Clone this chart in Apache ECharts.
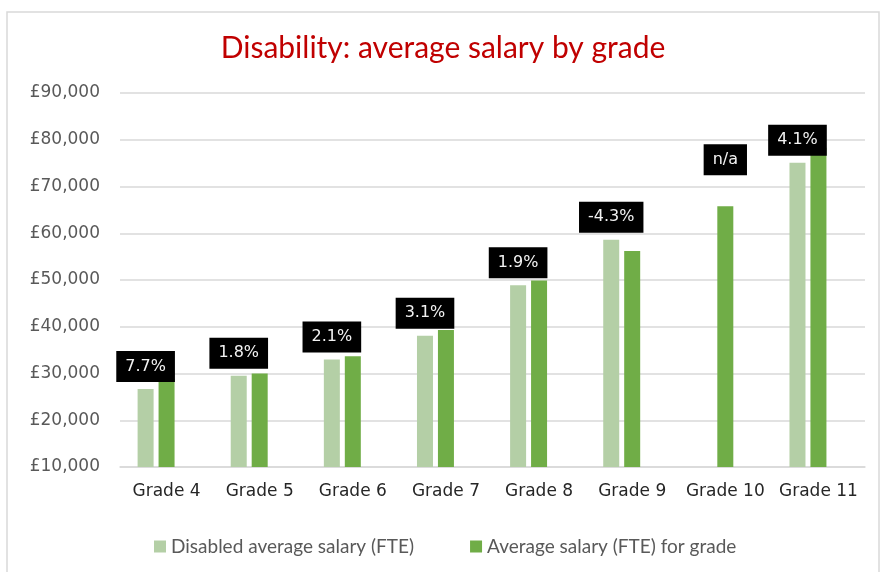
<!DOCTYPE html>
<html>
<head>
<meta charset="utf-8">
<title>Disability: average salary by grade</title>
<script src="https://cdn.jsdelivr.net/npm/echarts@6/dist/echarts.min.js"></script>
<style>
	html, body { margin: 0; padding: 0; background: #fff; }
	#chart { width: 886px; height: 572px; }
</style>
</head>
<body>
<div id="chart"></div>
<script>
	// values
	const grades = ['Grade 4', 'Grade 5', 'Grade 6', 'Grade 7', 'Grade 8', 'Grade 9', 'Grade 10', 'Grade 11'];
	const disabledSalary = [26700, 29500, 33000, 38100, 48900, 58600, null, 75100];
	const gradeSalary = [28900, 30000, 33700, 39300, 49900, 56200, 65800, 78300];
	const payGap = ['7.7%', '1.8%', '2.1%', '3.1%', '1.9%', '-4.3%', 'n/a', '4.1%'];
	const yTicks = [10000, 20000, 30000, 40000, 50000, 60000, 70000, 80000, 90000];

	const axisFont = 'DejaVu Sans';
	const gapLabel = {
		show: true,
		position: 'top',
		distance: 7,
		backgroundColor: '#000',
		color: '#f2f2f2',
		fontFamily: axisFont,
		fontSize: 16,
		lineHeight: 19,
		padding: [6, 9]
	};

	// grade 10 has no disabled bar, so its label sits on the grade bar
	const gradeData = gradeSalary.map((v, i) => {
		if (disabledSalary[i] !== null) {
			return v;
		}
		return {
			value: v,
			label: Object.assign({}, gapLabel, { distance: 31, formatter: payGap[i] })
		};
	});

	const chart = echarts.init(document.getElementById('chart'), null, { renderer: 'canvas' });

	chart.setOption({
		animation: false,
		color: ['#b4cfa6', '#70ad47'],
		title: {
			text: 'Disability: average salary by grade',
			left: 'center',
			top: 28,
			textStyle: {
				color: '#c00000',
				fontFamily: 'Lato',
				fontWeight: 'normal',
				fontSize: 30
			}
		},
		graphic: [{
			type: 'rect',
			silent: true,
			shape: { x: 7, y: 12, width: 872, height: 570 },
			style: { fill: 'none', stroke: '#d9d9d9', lineWidth: 1.5 }
		}],
		grid: {
			left: 120,
			right: 21,
			top: 93,
			bottom: 105
		},
		legend: {
			data: ['Disabled average salary (FTE)', 'Average salary (FTE) for grade'],
			left: 149,
			top: 532,
			icon: 'rect',
			itemWidth: 12,
			itemHeight: 12,
			itemGap: 56,
			textStyle: {
				color: '#595959',
				fontFamily: 'Lato',
				fontSize: 19
			}
		},
		xAxis: {
			type: 'category',
			data: grades,
			axisTick: { show: false },
			axisLine: { lineStyle: { color: '#d9d9d9', width: 1.5 } },
			axisLabel: {
				color: '#262626',
				fontFamily: axisFont,
				fontSize: 17,
				margin: 16,
				interval: 0
			}
		},
		yAxis: {
			type: 'value',
			min: yTicks[0],
			max: yTicks[yTicks.length - 1],
			interval: 10000,
			axisLine: { show: false },
			axisTick: { show: false },
			splitLine: { lineStyle: { color: '#d9d9d9', width: 1.5 } },
			axisLabel: {
				color: '#595959',
				fontFamily: axisFont,
				fontSize: 17,
				margin: 20,
				formatter: v => '£' + v.toLocaleString('en-GB')
			}
		},
		series: [{
			name: 'Disabled average salary (FTE)',
			type: 'bar',
			barWidth: 16,
			barGap: '31%',
			data: disabledSalary,
			label: Object.assign({}, gapLabel, {
				formatter: p => payGap[p.dataIndex]
			}),
			z: 2
		}, {
			name: 'Average salary (FTE) for grade',
			type: 'bar',
			barWidth: 16,
			data: gradeData,
			z: 2
		}, {
			// empty third slot, keeps the grade bar centred like the original
			name: 'spacer',
			type: 'bar',
			barWidth: 16,
			silent: true,
			data: grades.map(() => null)
		}]
	});
</script>
</body>
</html>
